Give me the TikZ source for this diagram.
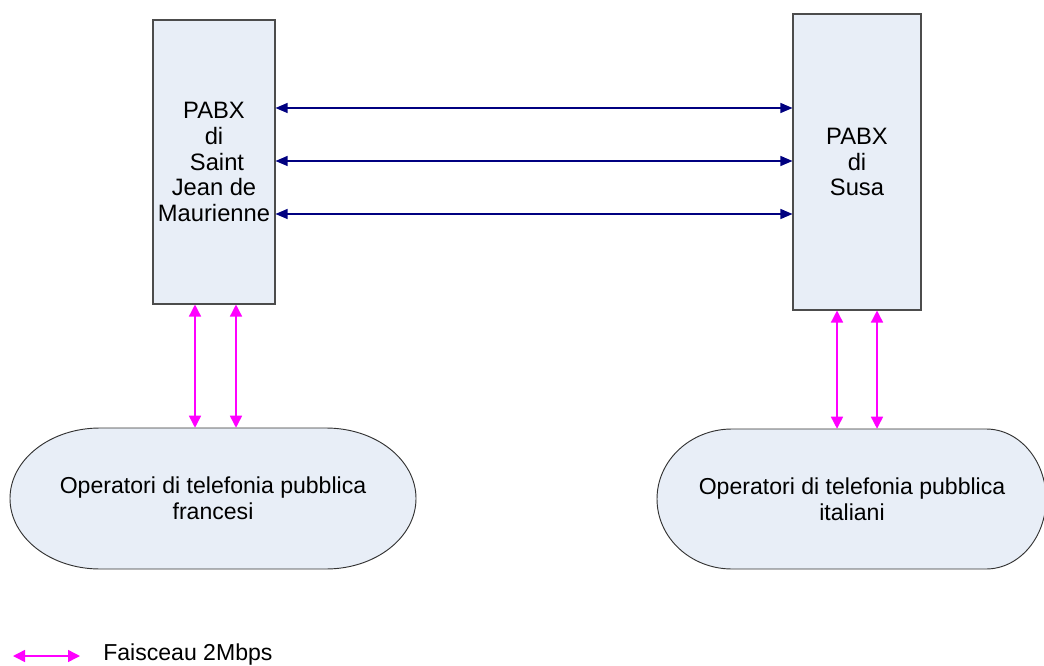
\documentclass[tikz,border=0pt]{standalone}
\usepackage{fontspec}
\setmainfont{Liberation Sans}
\usetikzlibrary{arrows.meta}
\definecolor{boxfill}{RGB}{232,238,247}
\definecolor{navy}{RGB}{0,0,128}
\definecolor{pinkline}{RGB}{255,0,255}
\begin{document}
\begin{tikzpicture}[x=0.75pt,y=-0.75pt,
  every node/.style={font=\fontsize{17.3pt}{19.3pt}\selectfont, align=center},
  pabx/.style={draw=black!70, fill=boxfill, line width=0.8pt, inner sep=0pt,
    font=\fontsize{17.8pt}{19.3pt}\selectfont},
  hole/.style={inner sep=0pt},
  stad/.style={draw=black!80, fill=boxfill, line width=0.7pt},
  trunk/.style={navy, line width=0.9pt,
    {Triangle[length=9pt,width=7.5pt]}-{Triangle[length=9pt,width=7.5pt]}},
  feed/.style={pinkline, line width=1.1pt,
    {Triangle[length=9pt,width=9pt]}-{Triangle[length=9pt,width=9pt]}},
  ]
\useasboundingbox (0,0) rectangle (1044,666);
\clip (0,0) rectangle (1044,666);

% exchanges
\node[pabx, minimum width=91.5pt, minimum height=213pt] (lbox) at (214,162)
  {PABX\\di\\\hspace*{4.5pt}Saint\\Jean de\\Maurienne};
\node[pabx, minimum width=96pt, minimum height=222pt] (rbox) at (857,162)
  {PABX\\di\\Susa};

% public operators (stadium outlines with elliptical ends)
\draw[stad] (100,428) -- (326,428)
  arc[start angle=90, end angle=-90, x radius=67.5pt, y radius=52.875pt]
  -- (100,569)
  arc[start angle=270, end angle=90, x radius=67.5pt, y radius=52.875pt] -- cycle;
\draw[stad] (732,429) -- (986,429)
  arc[start angle=90, end angle=-90, x radius=45pt, y radius=52.5pt]
  -- (732,569)
  arc[start angle=270, end angle=90, x radius=56.25pt, y radius=52.5pt] -- cycle;
\node[hole, minimum width=304.5pt, minimum height=105.75pt] (lop) at (213,498.5)
  {Operatori di telefonia pubblica\\francesi};
\node[hole, minimum width=292.5pt, minimum height=105pt] (rop) at (852,499)
  {Operatori di telefonia pubblica\\italiani};

% inter-exchange trunks
\foreach \dy in {40.5pt,0.75pt,-39pt}
  \draw[trunk] ([yshift=\dy]lbox.east) -- ([yshift=\dy]lbox.east -| rbox.west);

% 2 Mbps feeds to the operators
\foreach \dx in {-14.25pt,16.5pt}
  \draw[feed] ([xshift=\dx]lbox.south) -- ([xshift=\dx]lbox.south |- lop.north);
\foreach \dx in {-15pt,15pt}
  \draw[feed] ([xshift=\dx]rbox.south) -- ([xshift=\dx]rbox.south |- rop.north);

% legend
\coordinate (la) at (13,656);
\coordinate (lb) at (80,656);
\draw[feed] (la) -- (lb);
\node[anchor=base west, inner sep=0pt] (leg) at (103,660.5) {Faisceau 2Mbps};
\end{tikzpicture}
\end{document}
